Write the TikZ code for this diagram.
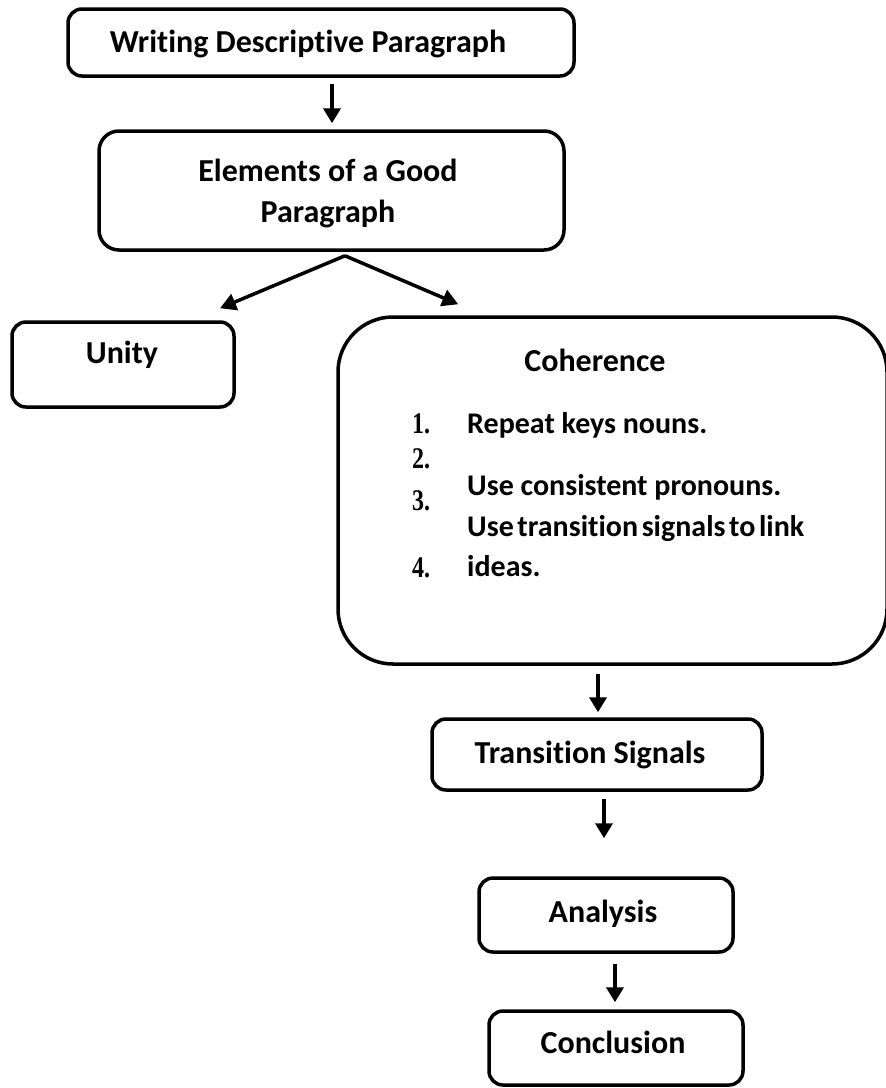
\documentclass[tikz,border=0pt]{standalone}
\usepackage{fontspec}
\usepackage{graphicx}
\setmainfont{Carlito}[Ligatures={NoCommon}]
\newfontfamily\numfont{Liberation Serif}
\usetikzlibrary{arrows.meta}
\newcommand{\tightwords}{\spaceskip=0.12em\relax}
\newcommand{\listnum}[1]{\scalebox{0.8}[1]{#1}}
\begin{document}
\begin{tikzpicture}[x=1pt,y=-1pt,
  box/.style={draw, line width=3.5pt, rounded corners=14pt, inner sep=0pt},
  title/.style={font=\fontsize{32}{41}\selectfont\bfseries, anchor=base, inner sep=0pt, align=center},
  item/.style={font=\fontsize{30}{36}\selectfont\bfseries, anchor=base west, inner sep=0pt},
  num/.style={font=\fontsize{30}{30}\selectfont\numfont\bfseries, anchor=base west, inner sep=0pt},
  arr/.style={line width=4pt, -{Triangle[width=17pt,length=15pt]}},
  darr/.style={line width=3.5pt, -{Triangle[width=17pt,length=16pt]}}]
\useasboundingbox (0,0) rectangle (886,1088);

% boxes
\node[box, minimum width=506pt, minimum height=67pt] (top) at (321,42.5) {};
\node[box, minimum width=465pt, minimum height=119pt, rounded corners=20pt] (elem) at (331.5,190.5) {};
\node[box, minimum width=222pt, minimum height=85pt] (unity) at (123,364.5) {};
\node[box, minimum width=549pt, minimum height=347pt, rounded corners=55pt] (coh) at (612.5,490.5) {};
\node[box, minimum width=330pt, minimum height=71pt] (ts) at (597,754.5) {};
\node[box, minimum width=254pt, minimum height=74pt] (ana) at (606,915) {};
\node[box, minimum width=254pt, minimum height=74pt] (con) at (616,1048) {};

% box texts (a two-line node sits on the baseline of its last line)
\node[title] (topT) at (308,52) {Writing Descriptive Paragraph};
\node[title] (elemT) at (328,222) {Elements of a Good\\Paragraph};
\node[title] (unityT) at (122,363) {Unity};
\node[title] (cohT) at (595,371) {Coherence};
\node[title] (tsT) at (590,763) {Transition Signals};
\node[title] (anaT) at (603,922) {Analysis};
\node[title] (conT) at (613,1053) {Conclusion};

% numbered list inside the coherence box
\node[num] (n1) at (412,433) {\listnum{1.}};
\node[num] (n2) at (412,468) {\listnum{2.}};
\node[num] (n3) at (412,510) {\listnum{3.}};
\node[num] (n4) at (412,577) {\listnum{4.}};
\node[item] (i1) at (467,433) {Repeat keys nouns.};
\node[item] (i2) at (467,495) {Use consistent pronouns.};
\node[item] (i3) at (467,536) {\tightwords Use transition signals to link};
\node[item] (i4) at (467,576) {ideas.};

% connectors
\coordinate (split) at ([xshift=13.5pt,yshift=-4pt]elem.south);
\draw[arr] ([xshift=11pt,yshift=-6pt]top.south) -- ([xshift=0.5pt,yshift=6pt]elem.north);
\draw[darr] (split) -- ([xshift=97pt,yshift=12pt]unity.north);
\draw[darr] (split) -- ([xshift=122pt,yshift=11pt]coh.north west);
\draw[arr] ([xshift=-14.5pt,yshift=-8pt]coh.south) -- ([xshift=1pt,yshift=5pt]ts.north);
\draw[arr] ([xshift=7pt,yshift=-7pt]ts.south) -- ([xshift=-2pt,yshift=38pt]ana.north);
\draw[arr] ([xshift=9pt,yshift=-10pt]ana.south) -- ([xshift=-1pt,yshift=7pt]con.north);
\end{tikzpicture}
\end{document}
